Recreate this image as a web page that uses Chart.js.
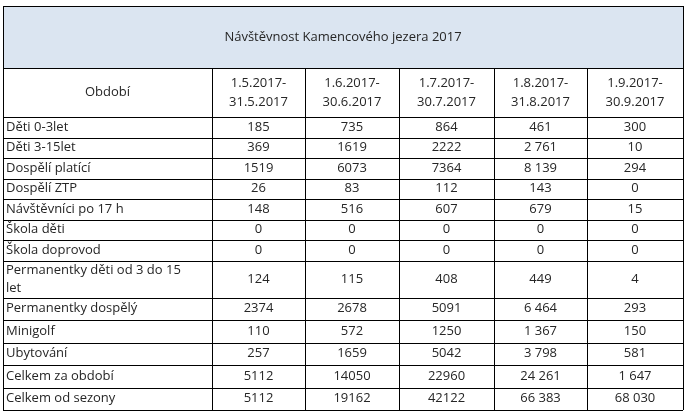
<!DOCTYPE html>
<html><head><meta charset="utf-8">
<script src="https://cdn.jsdelivr.net/npm/chart.js@4"></script>
<style>html,body{margin:0;padding:0;background:#fff}canvas{display:block}</style>
</head><body>
<canvas id="c" width="691" height="418"></canvas>
<script>
const title = "Návštěvnost Kamencového jezera 2017";
const headerLabel = "Období";
const periods = [["1.5.2017-","31.5.2017"],["1.6.2017-","30.6.2017"],["1.7.2017-","30.7.2017"],["1.8.2017-","31.8.2017"],["1.9.2017-","30.9.2017"]];
const categories = [["Děti 0-3let"],["Děti 3-15let"],["Dospělí platící"],["Dospělí ZTP"],["Návštěvníci po 17 h"],["Škola děti"],["Škola doprovod"],["Permanentky děti od 3 do 15","let"],["Permanentky dospělý"],["Minigolf"],["Ubytování"],["Celkem za období"],["Celkem od sezony"]];
const may  = ["185","369","1519","26","148","0","0","124","2374","110","257","5112","5112"];
const june = ["735","1619","6073","83","516","0","0","115","2678","572","1659","14050","19162"];
const july = ["864","2222","7364","112","607","0","0","408","5091","1250","5042","22960","42122"];
const aug  = ["461","2 761","8 139","143","679","0","0","449","6 464","1 367","3 798","24 261","66 383"];
const sep  = ["300","10","294","0","15","0","0","4","293","150","581","1 647","68 030"];
const series = [may, june, july, aug, sep];

// layout (in scale units = px)
const colEdges = [3, 212, 305, 399, 494, 587, 683];
const rowHeights = [20.5,20.5,20.5,20.5,20.5,20.5,20.5,37,22.5,22.5,22.5,22.5,22.5];
const top0 = 6, titleBottom = 68, headerBottom = 117;

const tablePlugin = {
  id: 'table',
  afterDraw(chart) {
    const ctx = chart.ctx, xs = chart.scales.x, ys = chart.scales.y;
    const X = v => xs.getPixelForValue(v), Y = v => ys.getPixelForValue(v);
    const rowEdges = [headerBottom];
    rowHeights.forEach(h => rowEdges.push(rowEdges[rowEdges.length-1] + h));
    const bottom = rowEdges[rowEdges.length-1];
    ctx.save();
    ctx.fillStyle = '#dbe5f1';
    ctx.fillRect(X(colEdges[0]), Y(top0), X(colEdges[6]) - X(colEdges[0]), Y(titleBottom) - Y(top0));
    ctx.strokeStyle = '#000'; ctx.lineWidth = 1;
    const hl = (y, x1, x2) => { ctx.beginPath(); ctx.moveTo(X(x1), Math.round(Y(y))+0.5); ctx.lineTo(X(x2), Math.round(Y(y))+0.5); ctx.stroke(); };
    const vl = (x, y1, y2) => { ctx.beginPath(); ctx.moveTo(Math.round(X(x))+0.5, Y(y1)); ctx.lineTo(Math.round(X(x))+0.5, Y(y2)); ctx.stroke(); };
    hl(top0, colEdges[0], colEdges[6]); hl(titleBottom, colEdges[0], colEdges[6]);
    rowEdges.forEach(y => hl(y, colEdges[0], colEdges[6]));
    vl(colEdges[0], top0, bottom); vl(colEdges[6], top0, bottom);
    colEdges.slice(1, 6).forEach(x => vl(x, titleBottom, bottom));
    ctx.fillStyle = '#262626';
    ctx.font = '13px "Open Sans", sans-serif';
    ctx.textBaseline = 'middle';
    ctx.textAlign = 'center';
    ctx.fillText(title, X((colEdges[0]+colEdges[6])/2), Y((top0+titleBottom)/2));
    ctx.fillText(headerLabel, X((colEdges[0]+colEdges[1])/2), Y((titleBottom+headerBottom)/2));
    periods.forEach((p, i) => {
      const cx = X((colEdges[i+1]+colEdges[i+2])/2), cy = Y((titleBottom+headerBottom)/2);
      ctx.fillText(p[0], cx, cy - 9); ctx.fillText(p[1], cx, cy + 10);
    });
    categories.forEach((lab, r) => {
      const cy = Y((rowEdges[r]+rowEdges[r+1])/2);
      ctx.textAlign = 'left';
      if (lab.length === 1) ctx.fillText(lab[0], X(colEdges[0]+3), cy);
      else { ctx.fillText(lab[0], X(colEdges[0]+3), cy - 9); ctx.fillText(lab[1], X(colEdges[0]+3), cy + 9); }
      ctx.textAlign = 'center';
      series.forEach((s, i) => ctx.fillText(s[r], X((colEdges[i+1]+colEdges[i+2])/2), cy));
    });
    ctx.restore();
  }
};

new Chart(document.getElementById('c'), {
  type: 'scatter',
  data: { datasets: [{ data: [] }] },
  options: {
    responsive: false, animation: false, devicePixelRatio: 1,
    layout: { padding: 0 },
    plugins: { legend: { display: false }, tooltip: { enabled: false } },
    scales: {
      x: { type: 'linear', min: 0, max: 691, display: false },
      y: { type: 'linear', min: 0, max: 418, reverse: true, display: false }
    }
  },
  plugins: [tablePlugin]
});
</script>
</body></html>
